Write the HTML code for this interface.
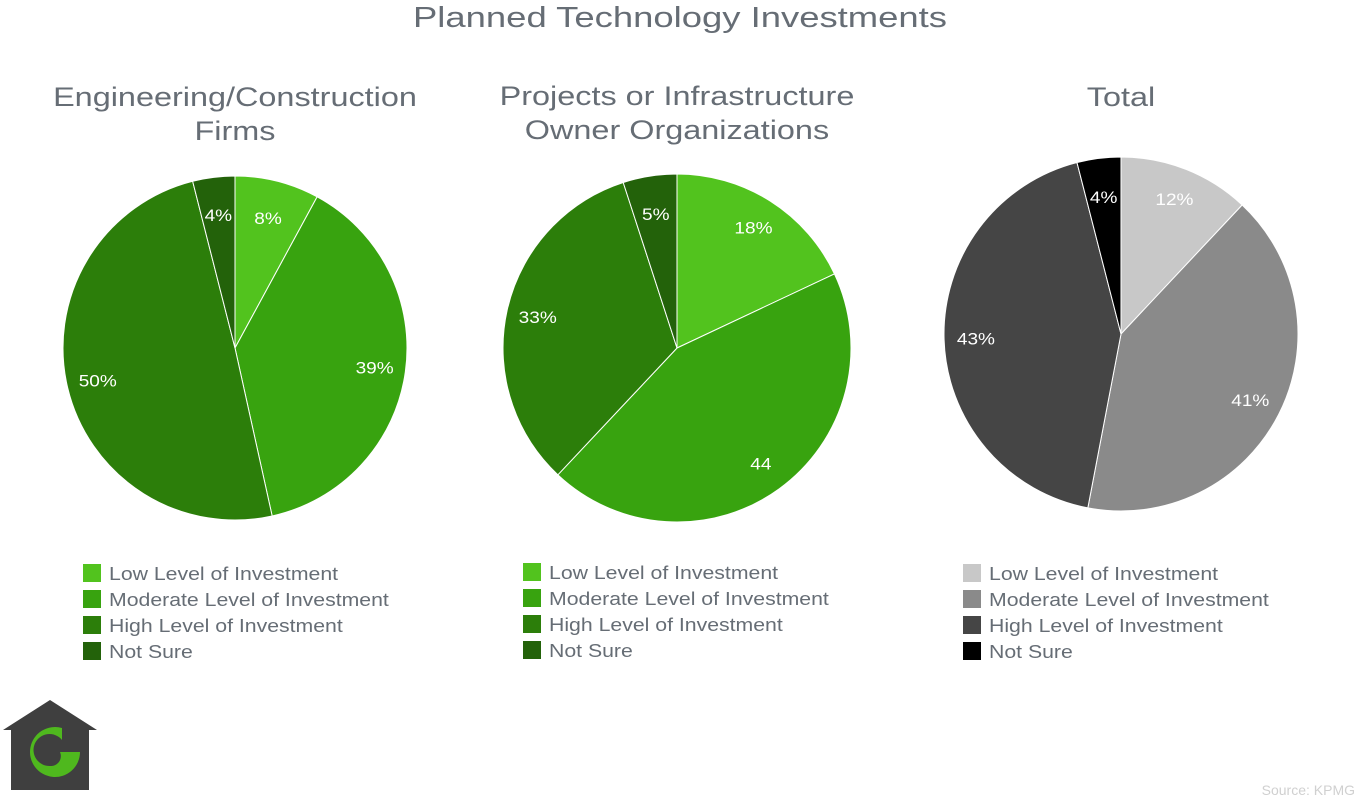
<!DOCTYPE html>
<html><head><meta charset="utf-8"><style>
body{margin:0;background:#fff;width:1360px;height:800px;overflow:hidden;font-family:"Liberation Sans",sans-serif}
svg text{font-family:"Liberation Sans",sans-serif}
</style></head><body>
<svg id="c" width="1360" height="800">
<text x="680" y="27" text-anchor="middle" font-size="29" fill="#666d75" textLength="534" lengthAdjust="spacingAndGlyphs">Planned Technology Investments</text>
<g>
<polygon points="50,700 97,730 89,730 89,790 11,790 11,730 3,730" fill="#3f3f3f"/>
<path d="M62,728 A25,25 0 1 0 80,752 L60,752 A10,10 0 0 1 50,766 A16,16 0 1 1 62,740 Z" fill="#4fb81e"/>
</g>
<text x="1355" y="795" text-anchor="end" font-size="14" fill="#d0d0d0">Source: KPMG</text>
</svg>
<script>
const categories=["Low Level of Investment","Moderate Level of Investment","High Level of Investment","Not Sure"];
const engValues=[8,39,50,4];
const engLabels=["8%","39%","50%","4%"];
const ownValues=[18,44,33,5];
const ownLabels=["18%","44","33%","5%"];
const totValues=[12,41,43,4];
const totLabels=["12%","41%","43%","4%"];
const greens=["#52c31e","#38a30f","#2c7e0a","#23620a"];
const grays=["#c8c8c8","#8a8a8a","#454545","#000000"];
const ns="http://www.w3.org/2000/svg";
const svg=document.getElementById('c');
function el(t,a){const e=document.createElementNS(ns,t);for(const k in a)e.setAttribute(k,a[k]);return e;}
function widen(t,f){const w=t.getComputedTextLength();t.setAttribute('textLength',w*f);t.setAttribute('lengthAdjust','spacingAndGlyphs');}
function pie(cfg){
 const g=el('g',{});
 
 
 svg.appendChild(g);
 cfg.title.forEach((t,i)=>{
  const tx=el('text',{x:cfg.cx,y:cfg.ty+i*34,'text-anchor':'middle','font-size':27,fill:'#666d75'});
  tx.textContent=t;
  
  
  g.appendChild(tx);
  widen(tx,1.2);
 });
 const tot=cfg.values.reduce((a,b)=>a+b,0);
 let a0=0;
 cfg.values.forEach((v,i)=>{
  const a1=a0+v/tot*2*Math.PI;
  const p=(a)=>[cfg.cx+cfg.r*Math.sin(a),cfg.cy-cfg.r*Math.cos(a)];
  const s=p(a0),e=p(a1);
  const path=el('path',{d:`M${cfg.cx},${cfg.cy} L${s[0]},${s[1]} A${cfg.r},${cfg.r} 0 ${a1-a0>Math.PI?1:0} 1 ${e[0]},${e[1]} Z`,fill:cfg.colors[i],stroke:'#fff','stroke-width':1});
  
  
  g.appendChild(path);
  const m=(a0+a1)/2,lr=cfg.r*(v<10?0.78:0.82);
  const lt=el('text',{x:cfg.cx+lr*Math.sin(m),y:cfg.cy-lr*Math.cos(m)+6,'text-anchor':'middle','font-size':17,fill:'#fff'});
  lt.textContent=cfg.labels[i];
  
  
  g.appendChild(lt);
  widen(lt,1.12);
  a0=a1;
 });
 categories.forEach((c,i)=>{
  const y=cfg.ly+i*26;
  const r=el('rect',{x:cfg.lx,y:y,width:18,height:18,fill:cfg.colors[i]});
  
  
  g.appendChild(r);
  const t=el('text',{x:cfg.lx+26,y:y+16,'font-size':18,fill:'#666d75'});
  t.textContent=c;
  
  
  g.appendChild(t);
  widen(t,1.18);
 });
}
pie({name:'pie-engineering-firms',cx:235,cy:348,r:172,values:engValues,labels:engLabels,colors:greens,title:["Engineering/Construction","Firms"],ty:106,lx:83,ly:564});
pie({name:'pie-owner-organizations',cx:677,cy:348,r:174,values:ownValues,labels:ownLabels,colors:greens,title:["Projects or Infrastructure","Owner Organizations"],ty:105,lx:523,ly:563});
pie({name:'pie-total',cx:1121,cy:334,r:177,values:totValues,labels:totLabels,colors:grays,title:["Total"],ty:106,lx:963,ly:564});
</script>
</body></html>
